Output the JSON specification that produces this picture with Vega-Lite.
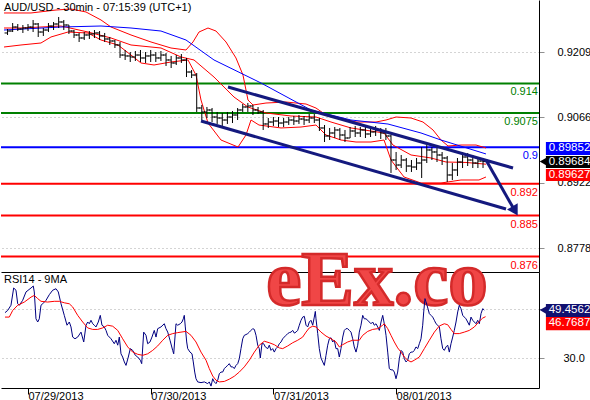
{
  "$schema": "https://vega.github.io/schema/vega-lite/v6.json",
  "padding": 0,
  "background": "#ffffff",
  "spacing": 0,
  "bounds": "flush",
  "config": {
    "view": {"stroke": null},
    "font": "Liberation Sans",
    "axis": {"labelFont": "Liberation Sans", "labelFontSize": 11, "labelColor": "#000000"},
    "title": {"anchor": "start", "font": "Liberation Sans", "fontSize": 11, "fontWeight": "normal", "color": "#000000", "offset": -13, "dx": 3, "frame": "group"}
  },
  "datasets": {
    "bars": [
      {"hour":-4,"open":0.92508,"high":0.92595,"low":0.92464,"close":0.92551},
      {"hour":-3,"open":0.92551,"high":0.92727,"low":0.92529,"close":0.92639},
      {"hour":-2,"open":0.92639,"high":0.92705,"low":0.92551,"close":0.92595},
      {"hour":-1,"open":0.92595,"high":0.92683,"low":0.92508,"close":0.92617},
      {"hour":0,"open":0.92617,"high":0.92705,"low":0.92551,"close":0.92639},
      {"hour":1,"open":0.92639,"high":0.92793,"low":0.92529,"close":0.92705},
      {"hour":2,"open":0.92705,"high":0.92727,"low":0.92420,"close":0.92529},
      {"hour":3,"open":0.92529,"high":0.92617,"low":0.92442,"close":0.92573},
      {"hour":4,"open":0.92573,"high":0.92727,"low":0.92529,"close":0.92661},
      {"hour":5,"open":0.92661,"high":0.92749,"low":0.92573,"close":0.92705},
      {"hour":6,"open":0.92705,"high":0.92859,"low":0.92617,"close":0.92749},
      {"hour":7,"open":0.92749,"high":0.92793,"low":0.92573,"close":0.92683},
      {"hour":8,"open":0.92683,"high":0.92683,"low":0.92486,"close":0.92551},
      {"hour":9,"open":0.92551,"high":0.92573,"low":0.92398,"close":0.92464},
      {"hour":10,"open":0.92464,"high":0.92508,"low":0.92310,"close":0.92398},
      {"hour":11,"open":0.92398,"high":0.92529,"low":0.92354,"close":0.92464},
      {"hour":12,"open":0.92464,"high":0.92551,"low":0.92376,"close":0.92486},
      {"hour":13,"open":0.92486,"high":0.92573,"low":0.92398,"close":0.92508},
      {"hour":14,"open":0.92508,"high":0.92551,"low":0.92354,"close":0.92442},
      {"hour":15,"open":0.92442,"high":0.92508,"low":0.92310,"close":0.92376},
      {"hour":16,"open":0.92376,"high":0.92420,"low":0.92244,"close":0.92332},
      {"hour":17,"open":0.92332,"high":0.92354,"low":0.92178,"close":0.92244},
      {"hour":18,"open":0.92244,"high":0.92310,"low":0.91959,"close":0.92024},
      {"hour":19,"open":0.92024,"high":0.92134,"low":0.91915,"close":0.92003},
      {"hour":20,"open":0.92003,"high":0.92090,"low":0.91871,"close":0.91981},
      {"hour":21,"open":0.91981,"high":0.92112,"low":0.91893,"close":0.92024},
      {"hour":22,"open":0.92024,"high":0.92134,"low":0.91871,"close":0.91959},
      {"hour":23,"open":0.91959,"high":0.92090,"low":0.91849,"close":0.92003},
      {"hour":24,"open":0.92003,"high":0.92134,"low":0.91871,"close":0.92024},
      {"hour":25,"open":0.92024,"high":0.92090,"low":0.91871,"close":0.91959},
      {"hour":26,"open":0.91959,"high":0.92112,"low":0.91893,"close":0.92024},
      {"hour":27,"open":0.92024,"high":0.92068,"low":0.91783,"close":0.91915},
      {"hour":28,"open":0.91915,"high":0.92003,"low":0.91739,"close":0.91849},
      {"hour":29,"open":0.91849,"high":0.92024,"low":0.91805,"close":0.91959},
      {"hour":30,"open":0.91959,"high":0.92046,"low":0.91849,"close":0.91915},
      {"hour":31,"open":0.91915,"high":0.91959,"low":0.91541,"close":0.91651},
      {"hour":32,"open":0.91651,"high":0.91695,"low":0.91519,"close":0.91585},
      {"hour":33,"open":0.91585,"high":0.91629,"low":0.90773,"close":0.90861},
      {"hour":34,"open":0.90861,"high":0.90927,"low":0.90597,"close":0.90773},
      {"hour":35,"open":0.90773,"high":0.90883,"low":0.90641,"close":0.90817},
      {"hour":36,"open":0.90817,"high":0.90861,"low":0.90553,"close":0.90663},
      {"hour":37,"open":0.90663,"high":0.90773,"low":0.90510,"close":0.90641},
      {"hour":38,"open":0.90641,"high":0.90751,"low":0.90466,"close":0.90597},
      {"hour":39,"open":0.90597,"high":0.90773,"low":0.90510,"close":0.90663},
      {"hour":40,"open":0.90663,"high":0.90795,"low":0.90531,"close":0.90707},
      {"hour":41,"open":0.90707,"high":0.90861,"low":0.90597,"close":0.90817},
      {"hour":42,"open":0.90817,"high":0.90949,"low":0.90773,"close":0.90883},
      {"hour":43,"open":0.90883,"high":0.90971,"low":0.90773,"close":0.90905},
      {"hour":44,"open":0.90905,"high":0.90927,"low":0.90707,"close":0.90817},
      {"hour":45,"open":0.90817,"high":0.90883,"low":0.90729,"close":0.90773},
      {"hour":46,"open":0.90773,"high":0.90817,"low":0.90378,"close":0.90510},
      {"hour":47,"open":0.90510,"high":0.90641,"low":0.90422,"close":0.90553},
      {"hour":48,"open":0.90553,"high":0.90663,"low":0.90466,"close":0.90575},
      {"hour":49,"open":0.90575,"high":0.90663,"low":0.90444,"close":0.90531},
      {"hour":50,"open":0.90531,"high":0.90641,"low":0.90444,"close":0.90553},
      {"hour":51,"open":0.90553,"high":0.90663,"low":0.90488,"close":0.90597},
      {"hour":52,"open":0.90597,"high":0.90685,"low":0.90488,"close":0.90575},
      {"hour":53,"open":0.90575,"high":0.90707,"low":0.90510,"close":0.90619},
      {"hour":54,"open":0.90619,"high":0.90685,"low":0.90488,"close":0.90597},
      {"hour":55,"open":0.90597,"high":0.90729,"low":0.90531,"close":0.90641},
      {"hour":56,"open":0.90641,"high":0.90729,"low":0.90531,"close":0.90597},
      {"hour":57,"open":0.90597,"high":0.90641,"low":0.90356,"close":0.90422},
      {"hour":58,"open":0.90422,"high":0.90488,"low":0.90114,"close":0.90246},
      {"hour":59,"open":0.90246,"high":0.90422,"low":0.90158,"close":0.90312},
      {"hour":60,"open":0.90312,"high":0.90444,"low":0.90202,"close":0.90378},
      {"hour":61,"open":0.90378,"high":0.90422,"low":0.90158,"close":0.90268},
      {"hour":62,"open":0.90268,"high":0.90378,"low":0.90114,"close":0.90202},
      {"hour":63,"open":0.90202,"high":0.90444,"low":0.90202,"close":0.90356},
      {"hour":64,"open":0.90356,"high":0.90466,"low":0.90224,"close":0.90312},
      {"hour":65,"open":0.90312,"high":0.90444,"low":0.90224,"close":0.90378},
      {"hour":66,"open":0.90378,"high":0.90444,"low":0.90202,"close":0.90290},
      {"hour":67,"open":0.90290,"high":0.90444,"low":0.90224,"close":0.90334},
      {"hour":68,"open":0.90334,"high":0.90466,"low":0.90246,"close":0.90378},
      {"hour":69,"open":0.90378,"high":0.90422,"low":0.90180,"close":0.90312},
      {"hour":70,"open":0.90312,"high":0.90422,"low":0.90158,"close":0.90246},
      {"hour":71,"open":0.90246,"high":0.90268,"low":0.89434,"close":0.89719},
      {"hour":72,"open":0.89719,"high":0.89895,"low":0.89500,"close":0.89609},
      {"hour":73,"open":0.89609,"high":0.89829,"low":0.89543,"close":0.89719},
      {"hour":74,"open":0.89719,"high":0.89763,"low":0.89456,"close":0.89587},
      {"hour":75,"open":0.89587,"high":0.89719,"low":0.89456,"close":0.89565},
      {"hour":76,"open":0.89565,"high":0.89763,"low":0.89500,"close":0.89653},
      {"hour":77,"open":0.89653,"high":0.90005,"low":0.89324,"close":0.89719},
      {"hour":78,"open":0.89719,"high":0.90048,"low":0.89653,"close":0.89939},
      {"hour":79,"open":0.89939,"high":0.90005,"low":0.89719,"close":0.89895},
      {"hour":80,"open":0.89895,"high":0.89983,"low":0.89675,"close":0.89829},
      {"hour":81,"open":0.89829,"high":0.89895,"low":0.89609,"close":0.89763},
      {"hour":82,"open":0.89763,"high":0.89807,"low":0.89236,"close":0.89390},
      {"hour":83,"open":0.89390,"high":0.89653,"low":0.89280,"close":0.89500},
      {"hour":84,"open":0.89500,"high":0.89763,"low":0.89368,"close":0.89675},
      {"hour":85,"open":0.89675,"high":0.89895,"low":0.89543,"close":0.89785},
      {"hour":86,"open":0.89785,"high":0.89873,"low":0.89587,"close":0.89719},
      {"hour":87,"open":0.89719,"high":0.89829,"low":0.89543,"close":0.89653},
      {"hour":88,"open":0.89653,"high":0.89785,"low":0.89543,"close":0.89697},
      {"hour":89,"open":0.89697,"high":0.89763,"low":0.89543,"close":0.89684}
    ],
    "overlays": [
      {"series":"BB upper","hour":-4.69,"price":0.92947},{"series":"BB upper","hour":0.59,"price":0.92947},{"series":"BB upper","hour":5.48,"price":0.93012},{"series":"BB upper","hour":8.41,"price":0.93034},{"series":"BB upper","hour":11.34,"price":0.92969},{"series":"BB upper","hour":14.28,"price":0.92793},{"series":"BB upper","hour":16.24,"price":0.92639},{"series":"BB upper","hour":20.15,"price":0.92464},{"series":"BB upper","hour":24.06,"price":0.9231},{"series":"BB upper","hour":27.97,"price":0.92178},{"series":"BB upper","hour":30.9,"price":0.92134},{"series":"BB upper","hour":32.27,"price":0.9231},{"series":"BB upper","hour":33.45,"price":0.92529},{"series":"BB upper","hour":35.21,"price":0.92617},{"series":"BB upper","hour":36.77,"price":0.92551},{"series":"BB upper","hour":38.73,"price":0.9231},{"series":"BB upper","hour":40.68,"price":0.91959},{"series":"BB upper","hour":42.05,"price":0.91585},{"series":"BB upper","hour":43.03,"price":0.91036},{"series":"BB upper","hour":44.01,"price":0.90926},{"series":"BB upper","hour":46.55,"price":0.9097},{"series":"BB upper","hour":50.46,"price":0.90992},{"series":"BB upper","hour":54.38,"price":0.90948},{"series":"BB upper","hour":56.33,"price":0.9086},{"series":"BB upper","hour":58.29,"price":0.90707},{"series":"BB upper","hour":61.22,"price":0.90641},{"series":"BB upper","hour":64.16,"price":0.90553},{"series":"BB upper","hour":68.07,"price":0.90553},{"series":"BB upper","hour":70.03,"price":0.90597},{"series":"BB upper","hour":71.98,"price":0.90663},{"series":"BB upper","hour":74.92,"price":0.90641},{"series":"BB upper","hour":77.26,"price":0.90553},{"series":"BB upper","hour":79.22,"price":0.90378},{"series":"BB upper","hour":80.78,"price":0.90158},{"series":"BB upper","hour":82.15,"price":0.90027},{"series":"BB upper","hour":84.69,"price":0.90048},{"series":"BB upper","hour":87.63,"price":0.90048},{"series":"BB upper","hour":89.58,"price":0.89983},
      {"series":"BB middle","hour":-4.69,"price":0.92617},{"series":"BB middle","hour":-1.37,"price":0.92617},{"series":"BB middle","hour":6.45,"price":0.92661},{"series":"BB middle","hour":11.74,"price":0.92529},{"series":"BB middle","hour":16.24,"price":0.92398},{"series":"BB middle","hour":20.15,"price":0.92244},{"series":"BB middle","hour":26.01,"price":0.92178},{"series":"BB middle","hour":29.93,"price":0.91981},{"series":"BB middle","hour":32.47,"price":0.91915},{"series":"BB middle","hour":36.38,"price":0.91541},{"series":"BB middle","hour":40.29,"price":0.91102},{"series":"BB middle","hour":43.03,"price":0.90882},{"series":"BB middle","hour":46.55,"price":0.90751},{"series":"BB middle","hour":51.44,"price":0.90685},{"series":"BB middle","hour":56.33,"price":0.90663},{"series":"BB middle","hour":59.27,"price":0.90553},{"series":"BB middle","hour":63.18,"price":0.90422},{"series":"BB middle","hour":69.64,"price":0.90312},{"series":"BB middle","hour":71.39,"price":0.90048},{"series":"BB middle","hour":74.92,"price":0.89829},{"series":"BB middle","hour":78.83,"price":0.89763},{"series":"BB middle","hour":81.76,"price":0.89675},{"series":"BB middle","hour":85.67,"price":0.89665},{"series":"BB middle","hour":89.58,"price":0.89627},
      {"series":"BB lower","hour":-4.69,"price":0.922},{"series":"BB lower","hour":-1.37,"price":0.92244},{"series":"BB lower","hour":2.54,"price":0.92288},{"series":"BB lower","hour":4.5,"price":0.9242},{"series":"BB lower","hour":7.82,"price":0.92529},{"series":"BB lower","hour":11.74,"price":0.92507},{"series":"BB lower","hour":14.28,"price":0.92354},{"series":"BB lower","hour":17.6,"price":0.92244},{"series":"BB lower","hour":20.15,"price":0.92024},{"series":"BB lower","hour":22.1,"price":0.91849},{"series":"BB lower","hour":24.65,"price":0.91805},{"series":"BB lower","hour":27.97,"price":0.91871},{"series":"BB lower","hour":31.3,"price":0.91915},{"series":"BB lower","hour":32.86,"price":0.91585},{"series":"BB lower","hour":33.84,"price":0.91036},{"series":"BB lower","hour":35.21,"price":0.90531},{"series":"BB lower","hour":37.75,"price":0.90158},{"series":"BB lower","hour":41.08,"price":0.90004},{"series":"BB lower","hour":42.64,"price":0.90268},{"series":"BB lower","hour":43.62,"price":0.90597},{"series":"BB lower","hour":45.18,"price":0.90487},{"series":"BB lower","hour":49.49,"price":0.90422},{"series":"BB lower","hour":53.4,"price":0.90443},{"series":"BB lower","hour":56.33,"price":0.90487},{"series":"BB lower","hour":58.29,"price":0.90268},{"series":"BB lower","hour":61.22,"price":0.90158},{"series":"BB lower","hour":64.16,"price":0.90114},{"series":"BB lower","hour":67.09,"price":0.90114},{"series":"BB lower","hour":69.64,"price":0.90158},{"series":"BB lower","hour":71.0,"price":0.89719},{"series":"BB lower","hour":73.55,"price":0.89346},{"series":"BB lower","hour":76.87,"price":0.89214},{"series":"BB lower","hour":80.78,"price":0.89214},{"series":"BB lower","hour":84.69,"price":0.8928},{"series":"BB lower","hour":88.21,"price":0.8928},{"series":"BB lower","hour":89.58,"price":0.89346},
      {"series":"MA","hour":-4.69,"price":0.92573},{"series":"MA","hour":6.45,"price":0.92639},{"series":"MA","hour":14.28,"price":0.92661},{"series":"MA","hour":20.15,"price":0.92617},{"series":"MA","hour":26.01,"price":0.92551},{"series":"MA","hour":30.9,"price":0.92354},{"series":"MA","hour":36.38,"price":0.91915},{"series":"MA","hour":45.57,"price":0.9141},{"series":"MA","hour":55.35,"price":0.90816},{"series":"MA","hour":63.18,"price":0.90597},{"series":"MA","hour":70.41,"price":0.90509},{"series":"MA","hour":76.87,"price":0.90312},{"series":"MA","hour":80.78,"price":0.90158},{"series":"MA","hour":89.58,"price":0.89852}
    ],
    "channel": [
      {"name":"upper","hour":39.12,"price":0.91322,"hour2":94.87,"price2":0.89543},
      {"name":"lower","hour":33.84,"price":0.90575,"hour2":93.5,"price2":0.88643},
      {"name":"projection","hour":89.58,"price":0.89719,"hour2":95.26,"price2":0.88599}
    ],
    "levels": [
      {"level":0.914,"label":"0.914","kind":"resistance"},
      {"level":0.9075,"label":"0.9075","kind":"resistance"},
      {"level":0.9,"label":"0.9","kind":"pivot"},
      {"level":0.892,"label":"0.892","kind":"support"},
      {"level":0.885,"label":"0.885","kind":"support"},
      {"level":0.876,"label":"0.876","kind":"support"}
    ],
    "tags": [
      {"series":"MA","value":0.89852},
      {"series":"Close","value":0.89684},
      {"series":"BB","value":0.89627},
      {"series":"RSI14","value":49.4562},
      {"series":"MA9","value":46.7687}
    ],
    "watermark": [{"text":"eEx.co"}],
    "rsi": [
      {"series":"RSI14","hour":-4.5,"value":48.4},{"series":"RSI14","hour":-3.97,"value":49.3},{"series":"RSI14","hour":-3.33,"value":51.4},{"series":"RSI14","hour":-2.8,"value":58.4},{"series":"RSI14","hour":-2.35,"value":57.5},{"series":"RSI14","hour":-2.01,"value":52.0},{"series":"RSI14","hour":-1.7,"value":51.4},{"series":"RSI14","hour":-1.04,"value":53.4},{"series":"RSI14","hour":-0.39,"value":56.8},{"series":"RSI14","hour":0.59,"value":58.4},{"series":"RSI14","hour":1.04,"value":59.2},{"series":"RSI14","hour":1.23,"value":56.8},{"series":"RSI14","hour":1.56,"value":45.9},{"series":"RSI14","hour":1.9,"value":44.6},{"series":"RSI14","hour":2.21,"value":45.9},{"series":"RSI14","hour":2.54,"value":51.4},{"series":"RSI14","hour":2.88,"value":52.0},{"series":"RSI14","hour":3.52,"value":53.4},{"series":"RSI14","hour":4.17,"value":55.7},{"series":"RSI14","hour":4.83,"value":57.5},{"series":"RSI14","hour":5.48,"value":58.1},{"series":"RSI14","hour":5.93,"value":56.8},{"series":"RSI14","hour":6.46,"value":52.0},{"series":"RSI14","hour":7.1,"value":47.3},{"series":"RSI14","hour":7.63,"value":43.3},{"series":"RSI14","hour":8.08,"value":44.6},{"series":"RSI14","hour":8.41,"value":42.6},{"series":"RSI14","hour":8.74,"value":38.5},{"series":"RSI14","hour":9.19,"value":37.8},{"series":"RSI14","hour":9.72,"value":38.5},{"series":"RSI14","hour":10.37,"value":40.5},{"series":"RSI14","hour":10.9,"value":36.5},{"series":"RSI14","hour":11.35,"value":43.3},{"series":"RSI14","hour":11.68,"value":44.6},{"series":"RSI14","hour":11.99,"value":43.9},{"series":"RSI14","hour":12.32,"value":45.3},{"series":"RSI14","hour":12.66,"value":43.9},{"series":"RSI14","hour":12.97,"value":43.3},{"series":"RSI14","hour":13.3,"value":42.6},{"series":"RSI14","hour":13.75,"value":44.6},{"series":"RSI14","hour":14.14,"value":47.3},{"series":"RSI14","hour":14.47,"value":43.3},{"series":"RSI14","hour":14.92,"value":42.6},{"series":"RSI14","hour":15.26,"value":41.2},{"series":"RSI14","hour":15.59,"value":39.2},{"series":"RSI14","hour":16.24,"value":37.8},{"series":"RSI14","hour":16.88,"value":35.8},{"series":"RSI14","hour":17.21,"value":37.2},{"series":"RSI14","hour":17.55,"value":35.2},{"series":"RSI14","hour":17.86,"value":38.5},{"series":"RSI14","hour":18.19,"value":31.7},{"series":"RSI14","hour":18.52,"value":30.4},{"series":"RSI14","hour":18.84,"value":28.4},{"series":"RSI14","hour":19.17,"value":27.0},{"series":"RSI14","hour":19.62,"value":30.4},{"series":"RSI14","hour":20.01,"value":33.8},{"series":"RSI14","hour":20.48,"value":33.1},{"series":"RSI14","hour":20.99,"value":31.1},{"series":"RSI14","hour":21.46,"value":30.4},{"series":"RSI14","hour":21.97,"value":29.1},{"series":"RSI14","hour":22.24,"value":27.7},{"series":"RSI14","hour":22.63,"value":40.5},{"series":"RSI14","hour":23.08,"value":39.2},{"series":"RSI14","hour":23.41,"value":35.8},{"series":"RSI14","hour":23.86,"value":36.5},{"series":"RSI14","hour":24.25,"value":38.5},{"series":"RSI14","hour":24.7,"value":41.2},{"series":"RSI14","hour":25.04,"value":38.5},{"series":"RSI14","hour":25.37,"value":41.9},{"series":"RSI14","hour":26.01,"value":42.6},{"series":"RSI14","hour":26.66,"value":43.9},{"series":"RSI14","hour":26.99,"value":41.9},{"series":"RSI14","hour":27.33,"value":40.5},{"series":"RSI14","hour":27.78,"value":37.2},{"series":"RSI14","hour":28.3,"value":33.1},{"series":"RSI14","hour":28.5,"value":31.7},{"series":"RSI14","hour":28.95,"value":43.9},{"series":"RSI14","hour":29.28,"value":43.3},{"series":"RSI14","hour":29.79,"value":43.9},{"series":"RSI14","hour":30.12,"value":44.6},{"series":"RSI14","hour":30.38,"value":45.9},{"series":"RSI14","hour":30.57,"value":47.3},{"series":"RSI14","hour":30.77,"value":42.6},{"series":"RSI14","hour":31.04,"value":36.5},{"series":"RSI14","hour":31.24,"value":33.8},{"series":"RSI14","hour":31.69,"value":32.4},{"series":"RSI14","hour":32.08,"value":31.7},{"series":"RSI14","hour":32.33,"value":28.4},{"series":"RSI14","hour":32.61,"value":24.3},{"series":"RSI14","hour":32.86,"value":21.6},{"series":"RSI14","hour":33.19,"value":20.3},{"series":"RSI14","hour":33.84,"value":20.0},{"series":"RSI14","hour":34.49,"value":20.3},{"series":"RSI14","hour":35.15,"value":19.6},{"series":"RSI14","hour":35.46,"value":20.3},{"series":"RSI14","hour":35.8,"value":18.6},{"series":"RSI14","hour":36.13,"value":21.6},{"series":"RSI14","hour":36.44,"value":20.3},{"series":"RSI14","hour":36.77,"value":19.6},{"series":"RSI14","hour":37.11,"value":21.0},{"series":"RSI14","hour":37.42,"value":23.6},{"series":"RSI14","hour":37.75,"value":24.3},{"series":"RSI14","hour":38.08,"value":24.3},{"series":"RSI14","hour":38.4,"value":25.7},{"series":"RSI14","hour":38.73,"value":26.4},{"series":"RSI14","hour":39.06,"value":27.0},{"series":"RSI14","hour":39.37,"value":27.7},{"series":"RSI14","hour":39.71,"value":26.4},{"series":"RSI14","hour":40.04,"value":26.4},{"series":"RSI14","hour":40.35,"value":25.7},{"series":"RSI14","hour":40.68,"value":27.0},{"series":"RSI14","hour":41.02,"value":27.7},{"series":"RSI14","hour":41.33,"value":29.7},{"series":"RSI14","hour":41.66,"value":33.8},{"series":"RSI14","hour":42.0,"value":37.8},{"series":"RSI14","hour":42.31,"value":39.2},{"series":"RSI14","hour":42.64,"value":39.5},{"series":"RSI14","hour":42.98,"value":39.9},{"series":"RSI14","hour":43.29,"value":40.5},{"series":"RSI14","hour":43.62,"value":41.2},{"series":"RSI14","hour":43.95,"value":41.9},{"series":"RSI14","hour":44.27,"value":41.6},{"series":"RSI14","hour":44.6,"value":39.2},{"series":"RSI14","hour":44.93,"value":35.2},{"series":"RSI14","hour":45.24,"value":33.8},{"series":"RSI14","hour":45.44,"value":30.0},{"series":"RSI14","hour":45.77,"value":35.8},{"series":"RSI14","hour":46.1,"value":35.8},{"series":"RSI14","hour":46.42,"value":34.5},{"series":"RSI14","hour":46.89,"value":33.8},{"series":"RSI14","hour":47.2,"value":35.2},{"series":"RSI14","hour":47.53,"value":33.1},{"series":"RSI14","hour":47.86,"value":33.8},{"series":"RSI14","hour":48.18,"value":32.4},{"series":"RSI14","hour":48.51,"value":33.8},{"series":"RSI14","hour":48.84,"value":34.5},{"series":"RSI14","hour":49.16,"value":35.8},{"series":"RSI14","hour":49.49,"value":36.5},{"series":"RSI14","hour":49.82,"value":37.8},{"series":"RSI14","hour":50.13,"value":38.5},{"series":"RSI14","hour":50.47,"value":39.2},{"series":"RSI14","hour":50.8,"value":39.9},{"series":"RSI14","hour":51.11,"value":40.3},{"series":"RSI14","hour":51.44,"value":40.5},{"series":"RSI14","hour":51.78,"value":41.2},{"series":"RSI14","hour":52.09,"value":40.1},{"series":"RSI14","hour":52.42,"value":40.5},{"series":"RSI14","hour":52.75,"value":41.2},{"series":"RSI14","hour":53.07,"value":43.3},{"series":"RSI14","hour":53.4,"value":45.3},{"series":"RSI14","hour":53.73,"value":46.6},{"series":"RSI14","hour":54.05,"value":46.9},{"series":"RSI14","hour":54.38,"value":43.3},{"series":"RSI14","hour":54.71,"value":42.6},{"series":"RSI14","hour":55.02,"value":44.6},{"series":"RSI14","hour":55.35,"value":45.3},{"series":"RSI14","hour":55.69,"value":43.3},{"series":"RSI14","hour":56.0,"value":46.6},{"series":"RSI14","hour":56.2,"value":48.9},{"series":"RSI14","hour":56.33,"value":45.9},{"series":"RSI14","hour":56.67,"value":39.9},{"series":"RSI14","hour":56.98,"value":33.8},{"series":"RSI14","hour":57.31,"value":30.0},{"series":"RSI14","hour":57.65,"value":28.4},{"series":"RSI14","hour":57.96,"value":27.0},{"series":"RSI14","hour":58.29,"value":31.1},{"series":"RSI14","hour":58.62,"value":35.2},{"series":"RSI14","hour":58.94,"value":37.8},{"series":"RSI14","hour":59.27,"value":38.2},{"series":"RSI14","hour":59.6,"value":36.5},{"series":"RSI14","hour":59.91,"value":37.2},{"series":"RSI14","hour":60.24,"value":33.8},{"series":"RSI14","hour":60.58,"value":33.8},{"series":"RSI14","hour":60.89,"value":30.4},{"series":"RSI14","hour":61.22,"value":33.8},{"series":"RSI14","hour":61.56,"value":38.5},{"series":"RSI14","hour":61.87,"value":41.2},{"series":"RSI14","hour":62.2,"value":41.9},{"series":"RSI14","hour":62.53,"value":41.9},{"series":"RSI14","hour":62.85,"value":41.2},{"series":"RSI14","hour":63.18,"value":40.5},{"series":"RSI14","hour":63.51,"value":37.8},{"series":"RSI14","hour":63.82,"value":34.5},{"series":"RSI14","hour":64.16,"value":32.4},{"series":"RSI14","hour":64.49,"value":35.2},{"series":"RSI14","hour":64.8,"value":40.5},{"series":"RSI14","hour":65.13,"value":43.3},{"series":"RSI14","hour":65.47,"value":47.3},{"series":"RSI14","hour":65.78,"value":45.9},{"series":"RSI14","hour":66.11,"value":45.9},{"series":"RSI14","hour":66.45,"value":45.3},{"series":"RSI14","hour":66.76,"value":44.6},{"series":"RSI14","hour":67.09,"value":43.9},{"series":"RSI14","hour":67.42,"value":44.6},{"series":"RSI14","hour":67.74,"value":43.3},{"series":"RSI14","hour":68.07,"value":43.9},{"series":"RSI14","hour":68.4,"value":42.6},{"series":"RSI14","hour":68.72,"value":41.2},{"series":"RSI14","hour":69.05,"value":44.6},{"series":"RSI14","hour":69.38,"value":47.3},{"series":"RSI14","hour":69.69,"value":43.9},{"series":"RSI14","hour":70.03,"value":39.2},{"series":"RSI14","hour":70.36,"value":32.4},{"series":"RSI14","hour":70.67,"value":25.7},{"series":"RSI14","hour":71.0,"value":25.2},{"series":"RSI14","hour":71.34,"value":25.2},{"series":"RSI14","hour":71.65,"value":24.3},{"series":"RSI14","hour":71.98,"value":21.6},{"series":"RSI14","hour":72.31,"value":24.3},{"series":"RSI14","hour":72.63,"value":29.7},{"series":"RSI14","hour":72.96,"value":33.1},{"series":"RSI14","hour":73.29,"value":32.4},{"series":"RSI14","hour":73.61,"value":29.7},{"series":"RSI14","hour":73.94,"value":28.4},{"series":"RSI14","hour":74.27,"value":29.1},{"series":"RSI14","hour":74.58,"value":31.7},{"series":"RSI14","hour":74.92,"value":32.4},{"series":"RSI14","hour":75.25,"value":32.4},{"series":"RSI14","hour":75.56,"value":33.1},{"series":"RSI14","hour":75.89,"value":34.5},{"series":"RSI14","hour":76.23,"value":33.8},{"series":"RSI14","hour":76.54,"value":35.8},{"series":"RSI14","hour":76.87,"value":37.8},{"series":"RSI14","hour":77.2,"value":43.3},{"series":"RSI14","hour":77.4,"value":48.7},{"series":"RSI14","hour":77.65,"value":54.1},{"series":"RSI14","hour":78.05,"value":51.4},{"series":"RSI14","hour":78.5,"value":48.0},{"series":"RSI14","hour":78.83,"value":47.3},{"series":"RSI14","hour":79.16,"value":46.6},{"series":"RSI14","hour":79.48,"value":45.3},{"series":"RSI14","hour":79.81,"value":43.9},{"series":"RSI14","hour":80.14,"value":43.3},{"series":"RSI14","hour":80.46,"value":42.6},{"series":"RSI14","hour":80.78,"value":37.8},{"series":"RSI14","hour":81.12,"value":33.8},{"series":"RSI14","hour":81.43,"value":33.1},{"series":"RSI14","hour":81.76,"value":34.5},{"series":"RSI14","hour":82.09,"value":35.2},{"series":"RSI14","hour":82.41,"value":32.4},{"series":"RSI14","hour":82.74,"value":35.8},{"series":"RSI14","hour":83.07,"value":38.5},{"series":"RSI14","hour":83.38,"value":41.2},{"series":"RSI14","hour":83.72,"value":44.6},{"series":"RSI14","hour":84.05,"value":48.7},{"series":"RSI14","hour":84.36,"value":51.4},{"series":"RSI14","hour":84.69,"value":50.0},{"series":"RSI14","hour":85.03,"value":47.3},{"series":"RSI14","hour":85.34,"value":46.6},{"series":"RSI14","hour":85.67,"value":45.9},{"series":"RSI14","hour":86.0,"value":44.6},{"series":"RSI14","hour":86.32,"value":43.3},{"series":"RSI14","hour":86.65,"value":46.6},{"series":"RSI14","hour":86.98,"value":45.3},{"series":"RSI14","hour":87.3,"value":44.6},{"series":"RSI14","hour":87.63,"value":43.9},{"series":"RSI14","hour":87.96,"value":45.3},{"series":"RSI14","hour":88.28,"value":43.9},{"series":"RSI14","hour":88.61,"value":48.0},{"series":"RSI14","hour":88.94,"value":50.0},{"series":"RSI14","hour":89.25,"value":49.4562},
      {"series":"MA9","hour":-4.5,"value":46.6},{"series":"MA9","hour":-3.66,"value":46.6},{"series":"MA9","hour":-2.99,"value":49.3},{"series":"MA9","hour":-2.01,"value":51.4},{"series":"MA9","hour":-0.72,"value":52.7},{"series":"MA9","hour":0.59,"value":54.7},{"series":"MA9","hour":1.23,"value":55.4},{"series":"MA9","hour":1.9,"value":54.1},{"series":"MA9","hour":2.54,"value":53.0},{"series":"MA9","hour":3.85,"value":52.7},{"series":"MA9","hour":5.14,"value":53.0},{"series":"MA9","hour":6.12,"value":53.0},{"series":"MA9","hour":7.1,"value":52.4},{"series":"MA9","hour":8.08,"value":52.0},{"series":"MA9","hour":8.74,"value":50.7},{"series":"MA9","hour":9.72,"value":47.3},{"series":"MA9","hour":10.7,"value":44.6},{"series":"MA9","hour":11.68,"value":42.2},{"series":"MA9","hour":12.66,"value":41.6},{"series":"MA9","hour":13.63,"value":41.6},{"series":"MA9","hour":14.61,"value":42.2},{"series":"MA9","hour":15.59,"value":43.3},{"series":"MA9","hour":16.57,"value":42.9},{"series":"MA9","hour":17.55,"value":41.2},{"series":"MA9","hour":18.52,"value":37.8},{"series":"MA9","hour":19.5,"value":34.5},{"series":"MA9","hour":20.48,"value":32.4},{"series":"MA9","hour":21.46,"value":31.5},{"series":"MA9","hour":22.44,"value":31.1},{"series":"MA9","hour":23.41,"value":31.7},{"series":"MA9","hour":24.39,"value":33.1},{"series":"MA9","hour":25.37,"value":34.9},{"series":"MA9","hour":26.35,"value":37.2},{"series":"MA9","hour":27.33,"value":39.2},{"series":"MA9","hour":28.3,"value":39.9},{"series":"MA9","hour":29.28,"value":40.3},{"series":"MA9","hour":29.93,"value":40.5},{"series":"MA9","hour":30.9,"value":40.8},{"series":"MA9","hour":31.88,"value":39.2},{"series":"MA9","hour":32.86,"value":36.5},{"series":"MA9","hour":33.84,"value":32.4},{"series":"MA9","hour":34.82,"value":29.1},{"series":"MA9","hour":35.46,"value":25.7},{"series":"MA9","hour":36.13,"value":22.7},{"series":"MA9","hour":36.77,"value":21.0},{"series":"MA9","hour":37.42,"value":20.3},{"series":"MA9","hour":38.4,"value":20.5},{"series":"MA9","hour":39.37,"value":21.4},{"series":"MA9","hour":40.35,"value":22.6},{"series":"MA9","hour":41.33,"value":24.3},{"series":"MA9","hour":42.31,"value":26.4},{"series":"MA9","hour":43.29,"value":29.1},{"series":"MA9","hour":44.27,"value":32.4},{"series":"MA9","hour":45.24,"value":35.2},{"series":"MA9","hour":46.22,"value":36.8},{"series":"MA9","hour":47.2,"value":36.2},{"series":"MA9","hour":48.18,"value":35.4},{"series":"MA9","hour":49.16,"value":34.1},{"series":"MA9","hour":49.82,"value":33.8},{"series":"MA9","hour":50.8,"value":34.9},{"series":"MA9","hour":51.78,"value":36.2},{"series":"MA9","hour":52.75,"value":37.2},{"series":"MA9","hour":53.73,"value":38.5},{"series":"MA9","hour":54.38,"value":40.5},{"series":"MA9","hour":55.02,"value":42.2},{"series":"MA9","hour":55.69,"value":42.9},{"series":"MA9","hour":56.33,"value":42.6},{"series":"MA9","hour":57.31,"value":40.5},{"series":"MA9","hour":58.29,"value":38.9},{"series":"MA9","hour":59.27,"value":37.8},{"series":"MA9","hour":60.24,"value":36.5},{"series":"MA9","hour":60.89,"value":34.5},{"series":"MA9","hour":61.56,"value":35.4},{"series":"MA9","hour":62.53,"value":36.5},{"series":"MA9","hour":63.51,"value":37.2},{"series":"MA9","hour":64.8,"value":37.2},{"series":"MA9","hour":65.47,"value":39.2},{"series":"MA9","hour":66.45,"value":40.8},{"series":"MA9","hour":67.42,"value":41.6},{"series":"MA9","hour":68.4,"value":41.9},{"series":"MA9","hour":69.38,"value":43.3},{"series":"MA9","hour":69.69,"value":43.9},{"series":"MA9","hour":70.36,"value":41.9},{"series":"MA9","hour":71.0,"value":39.2},{"series":"MA9","hour":71.65,"value":36.5},{"series":"MA9","hour":72.31,"value":34.1},{"series":"MA9","hour":72.96,"value":32.4},{"series":"MA9","hour":73.61,"value":30.4},{"series":"MA9","hour":74.27,"value":29.1},{"series":"MA9","hour":74.92,"value":28.4},{"series":"MA9","hour":75.56,"value":29.1},{"series":"MA9","hour":76.54,"value":30.4},{"series":"MA9","hour":77.52,"value":33.8},{"series":"MA9","hour":78.5,"value":37.2},{"series":"MA9","hour":79.48,"value":40.5},{"series":"MA9","hour":80.46,"value":43.0},{"series":"MA9","hour":81.43,"value":43.9},{"series":"MA9","hour":82.09,"value":43.5},{"series":"MA9","hour":82.74,"value":41.6},{"series":"MA9","hour":83.38,"value":39.9},{"series":"MA9","hour":84.36,"value":39.9},{"series":"MA9","hour":85.34,"value":40.5},{"series":"MA9","hour":86.32,"value":41.2},{"series":"MA9","hour":87.3,"value":42.6},{"series":"MA9","hour":88.28,"value":44.9},{"series":"MA9","hour":88.94,"value":46.2},{"series":"MA9","hour":89.5,"value":46.7687}
    ]
  },
  "vconcat": [
    {
      "width": 538,
      "height": 272,
      "title": {"text": "AUD/USD - 30min - 07:15:39 (UTC+1)"},
      "layer": [
        {
          "data": {"name": "levels"},
          "mark": {"type": "rule", "strokeWidth": 2},
          "encoding": {
            "y": {"field": "level", "type": "quantitative",
                  "scale": {"domain": [0.8726, 0.93232], "nice": false, "zero": false},
                  "axis": {"orient": "right", "values": [0.8778, 0.8922, 0.9066, 0.9209], "format": ".4f", "title": null,
                           "grid": true, "gridDash": [1, 3], "gridColor": "#a8a8a8", "domainColor": "#000000",
                           "tickColor": "#909090", "tickSize": 5, "labelPadding": 13}},
            "color": {"field": "kind", "type": "nominal",
                      "scale": {"domain": ["resistance", "pivot", "support"], "range": ["#008000", "#0000ff", "#ff0000"]},
                      "legend": null}
          }
        },
        {
          "data": {"name": "overlays"},
          "transform": [{"filter": "datum.series != 'MA'"}],
          "mark": {"type": "line", "color": "#ff0000", "strokeWidth": 1},
          "encoding": {
            "x": {"field": "hour", "type": "quantitative"},
            "y": {"field": "price", "type": "quantitative"},
            "detail": {"field": "series"}
          }
        },
        {
          "data": {"name": "overlays"},
          "transform": [{"filter": "datum.series == 'MA'"}],
          "mark": {"type": "line", "color": "#0000ff", "strokeWidth": 1},
          "encoding": {
            "x": {"field": "hour", "type": "quantitative"},
            "y": {"field": "price", "type": "quantitative"}
          }
        },
        {
          "data": {"name": "bars"},
          "mark": {"type": "rule", "color": "#000000", "strokeWidth": 1},
          "encoding": {
            "x": {"field": "hour", "type": "quantitative",
                  "scale": {"domain": [-5.28, 99.95], "nice": false, "zero": false},
                  "axis": {"orient": "bottom", "labels": false, "ticks": false, "grid": false, "domain": true, "domainColor": "#000000", "title": null}},
            "y": {"field": "low", "type": "quantitative"},
            "y2": {"field": "high"}
          }
        },
        {
          "data": {"name": "bars"},
          "mark": {"type": "tick", "orient": "horizontal", "size": 3, "thickness": 1, "xOffset": -1.5, "color": "#000000", "opacity": 1},
          "encoding": {
            "x": {"field": "hour", "type": "quantitative"},
            "y": {"field": "open", "type": "quantitative"}
          }
        },
        {
          "data": {"name": "bars"},
          "mark": {"type": "tick", "orient": "horizontal", "size": 3, "thickness": 1, "xOffset": 1.5, "color": "#000000", "opacity": 1},
          "encoding": {
            "x": {"field": "hour", "type": "quantitative"},
            "y": {"field": "close", "type": "quantitative"}
          }
        },
        {
          "data": {"name": "channel"},
          "mark": {"type": "rule", "color": "#14197e", "strokeWidth": 3},
          "encoding": {
            "x": {"field": "hour", "type": "quantitative"},
            "y": {"field": "price", "type": "quantitative"},
            "x2": {"field": "hour2"},
            "y2": {"field": "price2"}
          }
        },
        {
          "data": {"name": "channel"},
          "transform": [{"filter": "datum.name == 'projection'"}],
          "mark": {"type": "point", "shape": "triangle-up", "angle": 150, "filled": true, "size": 150, "color": "#14197e", "opacity": 1},
          "encoding": {
            "x": {"field": "hour2", "type": "quantitative"},
            "y": {"field": "price2", "type": "quantitative"}
          }
        },
        {
          "data": {"name": "levels"},
          "mark": {"type": "text", "align": "right", "baseline": "top", "dy": 3, "fontSize": 11},
          "encoding": {
            "x": {"datum": 99.75},
            "y": {"field": "level", "type": "quantitative"},
            "text": {"field": "label"},
            "color": {"field": "kind", "type": "nominal", "legend": null}
          }
        },
        {
          "data": {"name": "tags"},
          "transform": [{"filter": "datum.series == 'MA'"}],
          "mark": {"type": "rect", "color": "#0000ff"},
          "encoding": {"x": {"datum": 101.3}, "x2": {"datum": 110.3}, "y": {"datum": 0.90114}, "y2": {"datum": 0.89829}}
        },
        {
          "data": {"name": "tags"},
          "transform": [{"filter": "datum.series == 'Close'"}],
          "mark": {"type": "rect", "color": "#000000"},
          "encoding": {"x": {"datum": 101.3}, "x2": {"datum": 110.3}, "y": {"datum": 0.89807}, "y2": {"datum": 0.89543}}
        },
        {
          "data": {"name": "tags"},
          "transform": [{"filter": "datum.series == 'Close'"}],
          "mark": {"type": "point", "shape": "triangle-left", "filled": true, "size": 60, "color": "#000000", "opacity": 1},
          "encoding": {"x": {"datum": 100.75}, "y": {"field": "value", "type": "quantitative"}}
        },
        {
          "data": {"name": "tags"},
          "transform": [{"filter": "datum.series == 'BB'"}],
          "mark": {"type": "rect", "color": "#ff0000"},
          "encoding": {"x": {"datum": 101.3}, "x2": {"datum": 110.3}, "y": {"datum": 0.89521}, "y2": {"datum": 0.89258}}
        },
        {
          "data": {"name": "tags"},
          "transform": [{"filter": "datum.series == 'MA'"}],
          "mark": {"type": "text", "align": "left", "baseline": "middle", "color": "#ffffff", "fontSize": 11.5},
          "encoding": {"x": {"datum": 101.85}, "y": {"datum": 0.89972}, "text": {"field": "value", "type": "quantitative", "format": ".5f"}}
        },
        {
          "data": {"name": "tags"},
          "transform": [{"filter": "datum.series == 'Close'"}],
          "mark": {"type": "text", "align": "left", "baseline": "middle", "color": "#ffffff", "fontSize": 11.5},
          "encoding": {"x": {"datum": 101.85}, "y": {"datum": 0.89675}, "text": {"field": "value", "type": "quantitative", "format": ".5f"}}
        },
        {
          "data": {"name": "tags"},
          "transform": [{"filter": "datum.series == 'BB'"}],
          "mark": {"type": "text", "align": "left", "baseline": "middle", "color": "#ffffff", "fontSize": 11.5},
          "encoding": {"x": {"datum": 101.85}, "y": {"datum": 0.8939}, "text": {"field": "value", "type": "quantitative", "format": ".5f"}}
        },
        {
          "data": {"name": "watermark"},
          "mark": {"type": "text", "align": "center", "baseline": "alphabetic", "font": "Liberation Serif", "fontWeight": "bold", "fontSize": 79, "color": "#f04646", "stroke": "#d42a2a", "strokeWidth": 2.5},
          "encoding": {"x": {"datum": 68.26}, "y": {"datum": 0.86535}, "text": {"field": "text"}}
        }
      ]
    },
    {
      "width": 538,
      "height": 116,
      "title": {"text": "RSI14 - 9MA"},
      "layer": [
        {
          "data": {"name": "rsi"},
          "transform": [{"filter": "datum.series == 'RSI14'"}],
          "mark": {"type": "line", "color": "#000080", "strokeWidth": 1},
          "encoding": {
            "x": {"field": "hour", "type": "quantitative",
                  "scale": {"domain": [-5.28, 99.95], "nice": false, "zero": false},
                  "axis": {"orient": "bottom", "values": [0, 24, 48, 72],
                           "labelExpr": "datum.value == 0 ? '07/29/2013' : datum.value == 24 ? '07/30/2013' : datum.value == 48 ? '07/31/2013' : '08/01/2013'",
                           "labelAlign": "left", "labelDx": 3, "labelPadding": -4, "tickSize": 6, "tickColor": "#000000",
                           "domainColor": "#000000", "grid": false, "title": null, "labelFlush": false, "labelOverlap": false}},
            "y": {"field": "value", "type": "quantitative",
                  "scale": {"domain": [17.83, 64.89], "nice": false, "zero": false},
                  "axis": {"orient": "right", "values": [30, 50], "labelExpr": "datum.value == 30 ? '30.0' : ''", "title": null,
                           "grid": true, "gridDash": [1, 3], "gridColor": "#a8a8a8", "domainColor": "#000000",
                           "tickColor": "#909090", "tickSize": 5, "labelPadding": 19}}
          }
        },
        {
          "data": {"name": "rsi"},
          "transform": [{"filter": "datum.series == 'MA9'"}],
          "mark": {"type": "line", "color": "#ff0000", "strokeWidth": 1},
          "encoding": {
            "x": {"field": "hour", "type": "quantitative"},
            "y": {"field": "value", "type": "quantitative"}
          }
        },
        {
          "data": {"name": "tags"},
          "transform": [{"filter": "datum.series == 'RSI14'"}],
          "mark": {"type": "rect", "color": "#101070"},
          "encoding": {"x": {"datum": 101.3}, "x2": {"datum": 110.3}, "y": {"datum": 51.9}, "y2": {"datum": 46.6}}
        },
        {
          "data": {"name": "tags"},
          "transform": [{"filter": "datum.series == 'RSI14'"}],
          "mark": {"type": "point", "shape": "triangle-left", "filled": true, "size": 60, "color": "#101070", "opacity": 1},
          "encoding": {"x": {"datum": 100.75}, "y": {"field": "value", "type": "quantitative"}}
        },
        {
          "data": {"name": "tags"},
          "transform": [{"filter": "datum.series == 'MA9'"}],
          "mark": {"type": "rect", "color": "#ff0000"},
          "encoding": {"x": {"datum": 101.3}, "x2": {"datum": 110.3}, "y": {"datum": 46.6}, "y2": {"datum": 41.3}}
        },
        {
          "data": {"name": "tags"},
          "transform": [{"filter": "datum.series == 'RSI14'"}],
          "mark": {"type": "text", "align": "left", "baseline": "middle", "color": "#ffffff", "fontSize": 11.5},
          "encoding": {"x": {"datum": 101.85}, "y": {"datum": 49.3}, "text": {"field": "value", "type": "quantitative", "format": ".4f"}}
        },
        {
          "data": {"name": "tags"},
          "transform": [{"filter": "datum.series == 'MA9'"}],
          "mark": {"type": "text", "align": "left", "baseline": "middle", "color": "#ffffff", "fontSize": 11.5},
          "encoding": {"x": {"datum": 101.85}, "y": {"datum": 44.0}, "text": {"field": "value", "type": "quantitative", "format": ".4f"}}
        }
      ]
    }
  ]
}
